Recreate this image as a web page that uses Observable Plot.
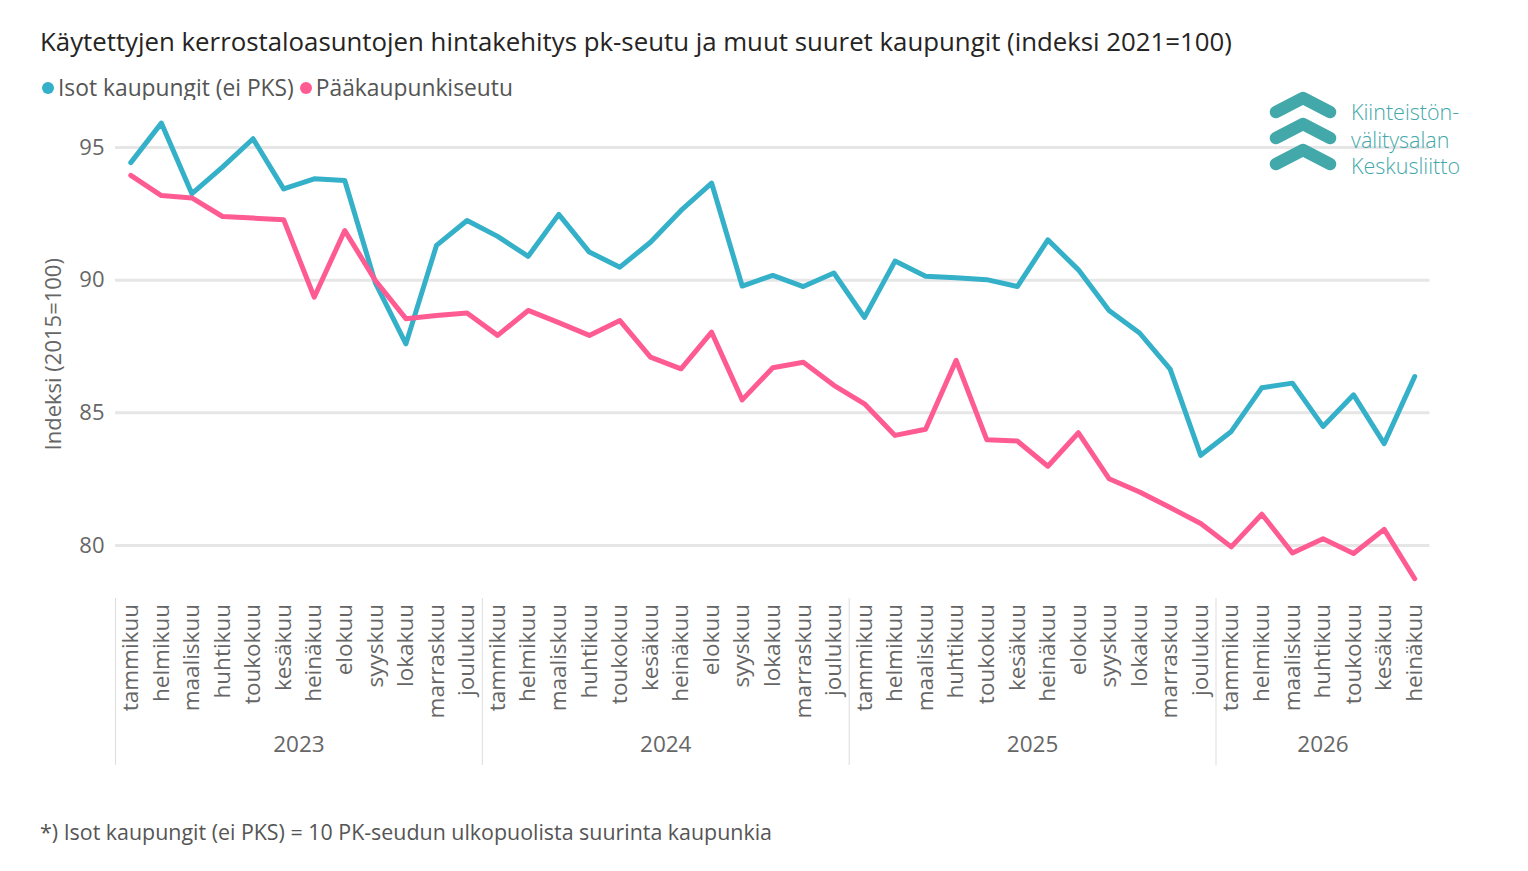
<!DOCTYPE html>
<html>
<head>
<meta charset="utf-8">
<script src="https://cdn.jsdelivr.net/npm/d3@7"></script>
<script src="https://cdn.jsdelivr.net/npm/@observablehq/plot@0.6"></script>
<style>
  body { margin: 0; background: #fff; font-family: "Open Sans", "Noto Sans", sans-serif; }
  #page { position: relative; width: 1528px; height: 871px; overflow: hidden; }
  #title { position: absolute; left: 40px; top: 23px; font-size: 25.8px; color: #252423; white-space: nowrap; }
  #legend { position: absolute; left: 42px; top: 72px; font-size: 22.8px; color: #555; white-space: nowrap; }
  #legend span.dot { display: inline-block; width: 12px; height: 12px; border-radius: 50%; margin-right: 4px; vertical-align: 2px; }
  #legend span.item { margin-right: 6px; }
  #chart { position: absolute; left: 0; top: 100px; }
  #foot { position: absolute; left: 40px; top: 817px; font-size: 21.4px; color: #555; white-space: nowrap; }
  #logo { position: absolute; left: 1260px; top: 85px; }
</style>
</head>
<body>
<div id="page">
  <div id="title">Käytettyjen kerrostaloasuntojen hintakehitys pk-seutu ja muut suuret kaupungit (indeksi 2021=100)</div>
  <div id="legend"></div>
  <div id="chart"></div>
  <div id="logo">
    <svg width="220" height="100" viewBox="0 0 220 100">
      <g fill="none" stroke="#43a8aa" stroke-width="12.5" stroke-linecap="round" stroke-linejoin="round">
        <polyline points="16,27 43,13 70,27"/>
        <polyline points="16,53 43,39 70,53"/>
        <polyline points="16,79 43,65 70,79"/>
      </g>
      <g fill="#43a8aa" font-family="Open Sans, Noto Sans, sans-serif" font-weight="300" font-size="21.5">
        <text x="91" y="35">Kiinteistön-</text>
        <text x="91" y="63">välitysalan</text>
        <text x="91" y="89">Keskusliitto</text>
      </g>
    </svg>
  </div>
  <div id="foot">*) Isot kaupungit (ei PKS) = 10 PK-seudun ulkopuolista suurinta kaupunkia</div>
</div>
<script>
const monthNames = ["tammikuu","helmikuu","maaliskuu","huhtikuu","toukokuu","kesäkuu","heinäkuu","elokuu","syyskuu","lokakuu","marraskuu","joulukuu"];
const years = [2023, 2024, 2025, 2026];
const monthsPerYear = [12, 12, 12, 7];
const seriesNames = ["Isot kaupungit (ei PKS)", "Pääkaupunkiseutu"];
const seriesColors = ["#35b0c9", "#ff5b93"];
const isot = [
  94.43, 95.92, 93.26, 94.26, 95.33, 93.44, 93.82, 93.76, 89.90, 87.60, 91.31, 92.25,
  91.65, 90.90, 92.48, 91.06, 90.49, 91.43, 92.63, 93.66, 89.78, 90.18, 89.76, 90.27,
  88.60, 90.72, 90.15, 90.09, 90.02, 89.76, 91.52, 90.39, 88.86, 88.01, 86.65, 83.40,
  84.30, 85.95, 86.12, 84.49, 85.68, 83.84, 86.37
];
const pks = [
  93.95, 93.19, 93.10, 92.40, 92.34, 92.28, 89.36, 91.87, 89.99, 88.55, 88.67, 88.76,
  87.92, 88.86, 88.40, 87.92, 88.48, 87.10, 86.66, 88.04, 85.49, 86.70, 86.91, 86.04,
  85.34, 84.15, 84.38, 86.98, 83.99, 83.94, 82.99, 84.25, 82.52, 82.02, 81.43, 80.83,
  79.95, 81.18, 79.72, 80.26, 79.70, 80.61, 78.75
];
const yTicks = [80, 85, 90, 95];

// Build month table
const months = [];
years.forEach((yr, yi) => {
  for (let m = 0; m < monthsPerYear[yi]; m++) months.push({ year: yr, month: monthNames[m] });
});
const rows = [];
months.forEach((mo, i) => {
  rows.push({ i, series: seriesNames[0], value: isot[i] });
  rows.push({ i, series: seriesNames[1], value: pks[i] });
});
// year groups: midpoints and separators
const yearGroups = [];
let start = 0;
years.forEach((yr, yi) => {
  const n = monthsPerYear[yi];
  yearGroups.push({ year: yr, mid: start + (n - 1) / 2, sep: start - 0.5 });
  start += n;
});

// legend
const legend = document.getElementById("legend");
seriesNames.forEach((s, k) => {
  const item = document.createElement("span");
  item.className = "item";
  item.innerHTML = `<span class="dot" style="background:${seriesColors[k]}"></span>${s}`;
  legend.appendChild(item);
});

const chart = Plot.plot({
  width: 1528,
  height: 680,
  marginLeft: 115,
  marginRight: 98.5,
  marginTop: 20,
  marginBottom: 192.5,
  style: { fontFamily: "Open Sans, Noto Sans, sans-serif", background: "white" },
  x: { type: "linear", domain: [-0.5, months.length - 0.5] },
  y: { domain: [78.4, 96.018] },
  color: { domain: seriesNames, range: seriesColors },
  marks: [
    Plot.gridY(yTicks, { stroke: "#e6e6e6", strokeOpacity: 1, strokeWidth: 3 }),
    Plot.axisY(yTicks, {
      tickSize: 0, tickPadding: 11, fontSize: 22, fill: "#666",
      label: "Indeksi (2015=100)", labelAnchor: "center", labelArrow: "none", labelOffset: 70
    }),
    Plot.axisX(d3.range(months.length), {
      tickFormat: i => months[i].month, tickRotate: -90, tickSize: 0, tickPadding: 16,
      fontSize: 22.5, fill: "#666", label: null
    }),
    Plot.axisX(yearGroups.map(g => g.mid), {
      tickFormat: d => String(yearGroups.find(g => g.mid === d).year), tickSize: 0, tickPadding: 148,
      fontSize: 22.5, fill: "#666", label: null
    }),
    Plot.ruleX(yearGroups.map(g => g.sep), { stroke: "#ddd", strokeWidth: 1, insetTop: 300.5, dy: 177.5 }),
    Plot.line(rows, { x: "i", y: "value", z: "series", stroke: "series", strokeWidth: 5, strokeLinejoin: "round", strokeLinecap: "round" })
  ]
});
document.getElementById("chart").appendChild(chart);
</script>
</body>
</html>
